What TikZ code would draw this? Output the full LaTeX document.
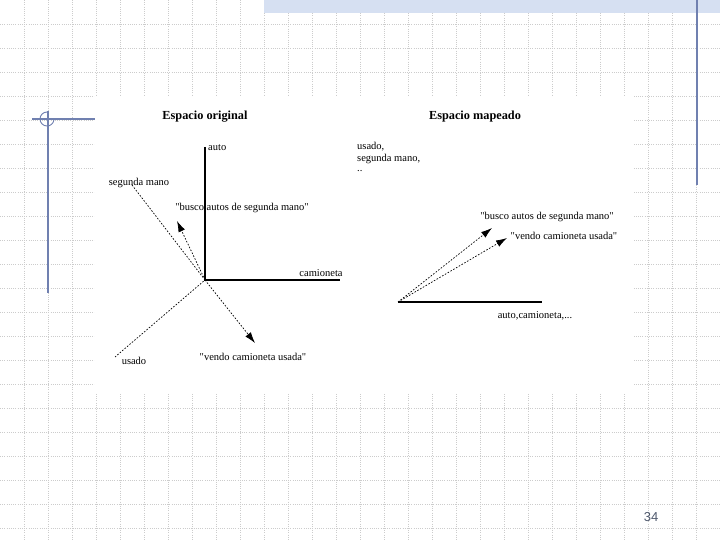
\documentclass[tikz,border=0pt]{standalone}
\usepackage{fontspec}
\setmainfont{Liberation Serif}
\setsansfont{Liberation Sans}
\newfontfamily\lserif{Liberation Serif}
\usetikzlibrary{arrows.meta}
\definecolor{deco}{RGB}{112,128,176}
\definecolor{band}{RGB}{214,224,242}
\definecolor{pnum}{RGB}{80,90,110}
\begin{document}
\begin{tikzpicture}[x=1pt,y=-1pt,
  gridline/.style={draw=gray!40, line width=0.6pt, dash pattern=on 1pt off 1.2pt},
  deco/.style={draw=deco, line width=1.3pt},
  axis/.style={draw=black, line width=1.1pt},
  dotl/.style={draw=black, line width=0.7pt, dash pattern=on 1.6pt off 1.6pt},
  vec/.style={dotl, -{Latex[length=11pt,width=7pt]}},
  lbl/.style={inner sep=0pt, font=\lserif\fontsize{10.5}{11}\selectfont},
  ttl/.style={inner sep=0pt, font=\lserif\fontsize{12.3}{13}\selectfont\bfseries}]
\useasboundingbox (0,0) rectangle (720,540);
\fill[white] (0,0) rectangle (720,540);
% background grid
\foreach \i in {1,...,29} \draw[gridline] (\i*24,0) -- (\i*24,540);
\foreach \j in {1,...,22} \draw[gridline] (0,\j*24) -- (720,\j*24);
% white figure area
\fill[white] (95,96.5) rectangle (634,393);
% slide decorations
\fill[band] (264,0) rectangle (720,13);
\draw[deco] (697,0) -- (697,185);
\draw[deco] (32,119) -- (95,119);
\draw[deco] (48,111) -- (48,293);
\draw[draw=deco, line width=0.9pt] (47,112) arc[start angle=90, end angle=350, radius=7pt];
% ---------- left diagram ----------
\node[ttl] (t1) at (205,117) {Espacio original};
\coordinate (o1) at (205,280);
\coordinate (yend) at (205,147);
\coordinate (xend) at (340,280);
\coordinate (sm) at (132,185);
\coordinate (us) at (115,357);
\coordinate (b1) at (177,221);
\coordinate (v1) at (255,343);
\draw[axis] (yend) -- (o1) -- (xend);
\draw[dotl] (sm) -- (o1) -- (us);
\draw[vec] (o1) -- (b1);
\draw[vec] (o1) -- (v1);
\node[lbl, anchor=west] (lauto) at (208,148) {auto};
\node[lbl] (lcam) at (321,273) {camioneta};
\node[lbl] (lsm) at (139,183) {segunda mano};
\node[lbl] (lbusco) at (242,208) {"busco autos de segunda mano"};
\node[lbl] (lusado) at (134,361) {usado};
\node[lbl] (lvendo) at (253,357) {"vendo camioneta usada"};
% ---------- right diagram ----------
\node[ttl] (t2) at (475,117) {Espacio mapeado};
\node[lbl, anchor=west] (r1) at (357,147) {usado,};
\node[lbl, anchor=west] (r2) at (357,159) {segunda mano,};
\node[lbl, anchor=west] (r3) at (357,171) {..};
\coordinate (o2) at (398,302);
\coordinate (xend2) at (542,302);
\coordinate (b2) at (492,228);
\coordinate (v2) at (507,238);
\draw[axis] (o2) -- (xend2);
\draw[vec] (o2) -- (b2);
\draw[vec] (o2) -- (v2);
\node[lbl] (rbusco) at (547,217) {"busco autos de segunda mano"};
\node[lbl] (rvendo) at (564,236) {"vendo camioneta usada"};
\node[lbl] (rax) at (535,316) {auto,camioneta,...};
% page number
\node[inner sep=0pt, font=\sffamily\fontsize{13}{13}\selectfont, text=pnum] (pn) at (651,517) {34};
\end{tikzpicture}
\end{document}
